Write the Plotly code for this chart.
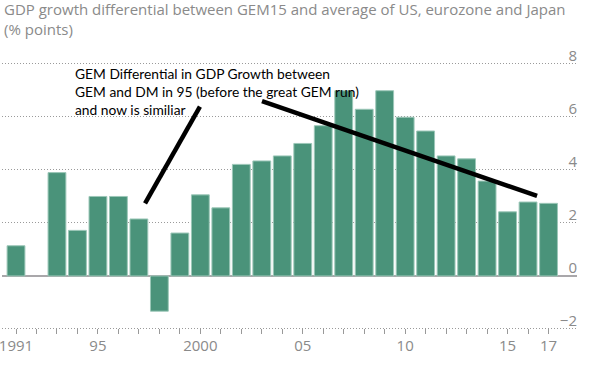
import plotly.graph_objects as go

# ---- data ----
years = list(range(1991, 2018))
gdp_diff = [1.14, None, 3.90, 1.72, 3.00, 3.00, 2.15, -1.33, 1.62, 3.06, 2.57,
            4.21, 4.34, 4.53, 5.00, 5.67, 6.99, 6.29, 6.99, 5.99, 5.47, 4.53,
            4.42, 3.58, 2.42, 2.79, 2.74]
tick_labels = {1991: "1991", 1995: "95", 2000: "2000", 2005: "05",
               2010: "10", 2015: "15", 2017: "17"}
y_ticks = [-2, 0, 2, 4, 6, 8]
y_range = [-2.19, 8.30]
label_lift = 0.30  # y labels sit just above their gridlines

# hand-drawn annotation strokes (data coordinates)
stroke1_x = [1997.30, 1999.98]
stroke1_y = [2.74, 6.39]
stroke2_x = [2003.01, 2016.44]
stroke2_y = [6.60, 3.02]
note_text = ("GEM Differential in GDP Growth between<br>"
             "GEM and DM in 95 (before the great GEM run)<br>"
             "and now is similiar")
title_text = ("GDP growth differential between GEM15 and average of US, eurozone and Japan"
              "<br>(% points)")

GREY = "#8a8a8a"
BAR = "#4a937a"

fig = go.Figure()
fig.add_trace(go.Bar(
    x=years, y=gdp_diff,
    marker=dict(color=BAR, line=dict(color="#9cc7b8", width=1)),
    width=0.87, showlegend=False, hoverinfo="x+y",
))
for sx, sy in [(stroke1_x, stroke1_y), (stroke2_x, stroke2_y)]:
    fig.add_trace(go.Scatter(
        x=sx, y=sy, mode="lines",
        line=dict(color="black", width=4.5),
        showlegend=False, hoverinfo="skip",
    ))
# invisible trace to activate the label axis
fig.add_trace(go.Scatter(
    x=[years[0]], y=[0], yaxis="y2", mode="markers",
    marker=dict(opacity=0), showlegend=False, hoverinfo="skip",
))

fig.add_annotation(
    x=1993.78, y=8.02, xref="x", yref="y",
    xanchor="left", yanchor="top", align="left",
    text=note_text, showarrow=False,
    font=dict(family="Lato", size=13.8, color="black"),
)

# chart title (top-left, two lines)
fig.add_annotation(
    x=0.0, y=1.214, xref="paper", yref="paper",
    xanchor="left", yanchor="top", align="left",
    text=title_text, showarrow=False,
    font=dict(family="Open Sans", size=15, color=GREY),
)

fig.update_layout(
    width=593, height=369,
    margin=dict(l=2, r=16, t=56, b=35),
    paper_bgcolor="white", plot_bgcolor="white",
    bargap=0.13,
    xaxis=dict(
        range=[1990.316, 2018.39],
        tickvals=years,
        ticktext=[tick_labels.get(y, "") for y in years],
        ticks="inside", ticklen=5, tickwidth=1, tickcolor="#999999",
        ticklabelstandoff=1,
        ticklabeloverflow="allow",
        showgrid=False, showline=False, zeroline=False,
        automargin=False,
        tickfont=dict(family="Open Sans", size=15, color=GREY),
    ),
    yaxis=dict(
        range=y_range,
        tickvals=y_ticks,
        showticklabels=False,
        ticks="",
        automargin=False,
        showgrid=True, gridcolor="#9a9a9a", gridwidth=1, griddash="1px,2px",
        zeroline=True, zerolinecolor="#a9a7aa", zerolinewidth=2,
        showline=False,
    ),
    yaxis2=dict(
        range=[y_range[0] - label_lift, y_range[1] - label_lift],
        tickvals=y_ticks,
        overlaying="y",
        anchor="free",
        position=1.0,
        side="left",
        ticks="",
        ticklabelstandoff=0,
        ticklabeloverflow="allow",
        automargin=False,
        showgrid=False, zeroline=False, showline=False,
        tickfont=dict(family="Open Sans", size=15, color=GREY),
    ),
)

fig.write_html(
    "out.html",
    config={"displayModeBar": False},
    post_script="document.body.style.margin='0px';document.body.style.overflow='hidden';",
)
